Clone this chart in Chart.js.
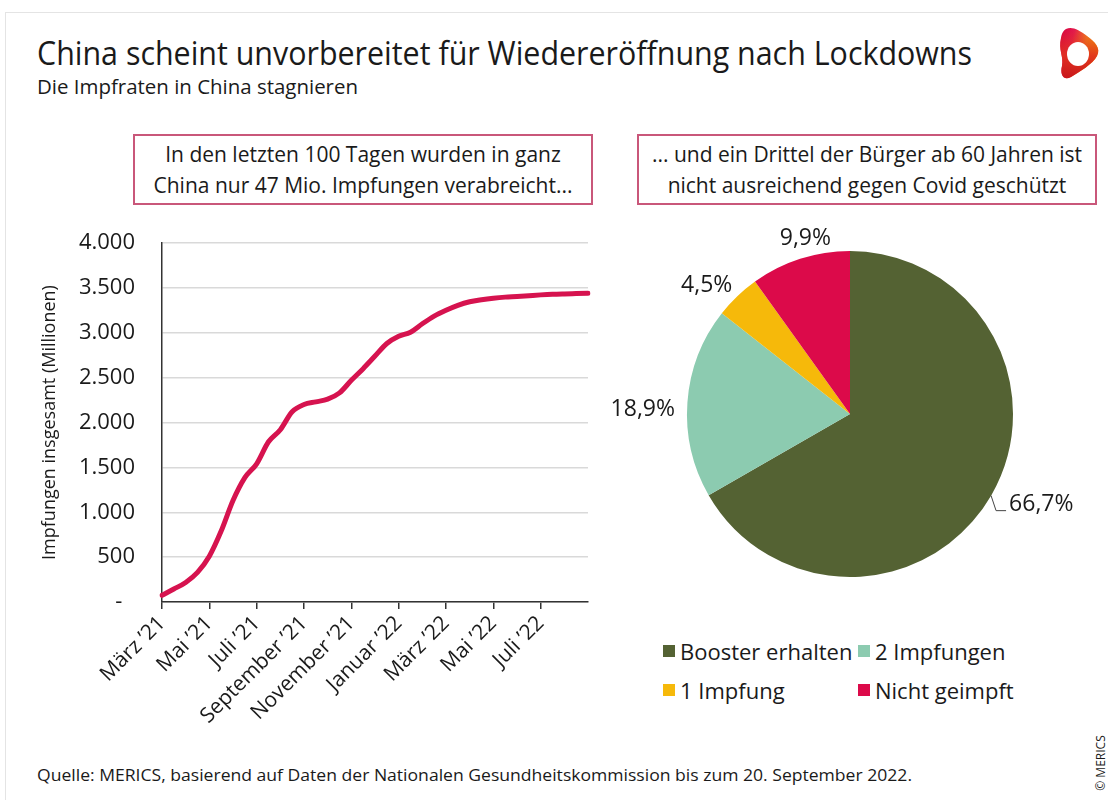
<!DOCTYPE html>
<html><head><meta charset="utf-8">
<script src="https://cdn.jsdelivr.net/npm/chart.js@4.4.1/dist/chart.umd.min.js"></script>
<style>
body{margin:0;background:#fff;font-family:'Open Sans',sans-serif;color:#1a1a1a;}
#wrap{position:relative;width:1108px;height:800px;overflow:hidden;background:#fff;}
.abs{position:absolute;white-space:nowrap;line-height:1;}
.fit{display:inline-block;transform-origin:left top;}
.frame{position:absolute;left:5px;top:12px;width:1200px;height:900px;border-left:1px solid #e4e4e4;border-top:1px solid #e4e4e4;}
.box{position:absolute;top:134px;height:71px;width:460px;box-sizing:border-box;border:2px solid #c9577a;display:flex;align-items:center;justify-content:center;text-align:center;font-size:21px;line-height:31px;color:#1a1a1a;}
.leg{position:absolute;display:flex;align-items:center;font-size:22px;line-height:1;white-space:nowrap;color:#1a1a1a;}
.leg i{display:inline-block;width:12px;height:12px;margin-right:5px;}
canvas{position:absolute;}
</style></head>
<body>
<div id="wrap">
  <div class="frame"></div>
  <div class="abs" style="left:37px;top:37px;font-size:32px;"><span class="fit" data-w="935">China scheint unvorbereitet für Wiedereröffnung nach Lockdowns</span></div>
  <div class="abs" style="left:37px;top:77px;font-size:20px;"><span class="fit" data-w="321">Die Impfraten in China stagnieren</span></div>
  <svg style="position:absolute;left:1056px;top:26px" width="46" height="56" viewBox="0 0 46 56">
    <defs>
      <linearGradient id="lg" x1="0" y1="0" x2="1" y2="0.35">
        <stop offset="0" stop-color="#d5003f"/><stop offset="0.35" stop-color="#e3194f"/><stop offset="0.7" stop-color="#f28a1e"/><stop offset="1" stop-color="#f39a00"/></linearGradient>
      <linearGradient id="lg2" x1="0" y1="0" x2="0" y2="1">
        <stop offset="0" stop-color="#e0301e" stop-opacity="0"/><stop offset="0.55" stop-color="#e0301e" stop-opacity="0.9"/><stop offset="1" stop-color="#c8161b"/></linearGradient>
    </defs>
    <path d="M10 3 C16 0 23 4 31 10 C39 16 45 22 41 30 C37 38 23 46 15 51 C7 55 4 48 6 40 C8 30 2 24 5 12 C6 7 7 5 10 3 Z" fill="url(#lg)"/>
    <path d="M10 3 C16 0 23 4 31 10 C39 16 45 22 41 30 C37 38 23 46 15 51 C7 55 4 48 6 40 C8 30 2 24 5 12 C6 7 7 5 10 3 Z" fill="url(#lg2)"/>
    <ellipse cx="22" cy="28" rx="11" ry="12" fill="#fff"/>
  </svg>
  <div class="box" style="left:133px;">In den letzten 100 Tagen wurden in ganz<br>China nur 47 Mio. Impfungen verabreicht...</div>
  <div class="box" style="left:637px;">... und ein Drittel der Bürger ab 60 Jahren ist<br>nicht ausreichend gegen Covid geschützt</div>
  <canvas id="lineChart" width="570" height="520" style="left:30px;top:225px;width:570px;height:520px;"></canvas>
  <canvas id="pieChart" width="500" height="390" style="left:600px;top:220px;width:500px;height:390px;"></canvas>
  <div id="legend"></div>
  <div class="abs" style="left:37px;top:766px;font-size:17px;"><span class="fit" data-w="875">Quelle: MERICS, basierend auf Daten der Nationalen Gesundheitskommission bis zum 20. September 2022.</span></div>
  <div class="abs" style="left:1101px;top:763px;font-size:12px;transform:translate(-50%,-50%) rotate(-90deg);">© MERICS</div>
</div>
<script>
// ---- Line chart data (cumulative vaccinations, millions) ----
const periods = ['01.03.21','16.03.21','01.04.21','16.04.21','01.05.21','16.05.21','01.06.21','16.06.21','01.07.21','16.07.21','01.08.21','16.08.21','01.09.21','16.09.21','01.10.21','16.10.21','01.11.21','16.11.21','01.12.21','16.12.21','01.01.22','16.01.22','01.02.22','16.02.22','01.03.22','16.03.22','01.04.22','16.04.22','01.05.22','16.05.22','01.06.22','16.06.22','01.07.22','16.07.22','01.08.22','16.08.22','01.09.22'];
const totalDoses = [75,145,218,330,510,790,1130,1385,1540,1785,1920,2120,2200,2230,2260,2330,2470,2600,2740,2880,2960,3006,3100,3185,3250,3305,3345,3368,3385,3397,3404,3413,3422,3429,3433,3436,3439];
const tickLabels = ['März ’21','Mai ’21','Juli ’21','September ’21','November ’21','Januar ’22','März ’22','Mai ’22','Juli ’22'];
const yTitle = 'Impfungen insgesamt (Millionen)';

// ---- Pie chart data (population 60+) ----
const pieLabels = ['Booster erhalten','2 Impfungen','1 Impfung','Nicht geimpft'];
const pieShares = [66.7,18.9,4.5,9.9];
const pieColors = ['#546233','#8ccbb0','#f6b90a','#dc0a4a'];
// style: small nudges of the outside labels (px)
const labelNudge = [[0,0],[-6,10],[-10,11],[12,1]];

const fmtThousands = v => String(v).replace(/\B(?=(\d{3})+(?!\d))/g,'.');
const fmtPct = v => v.toFixed(1).replace('.',',') + '%';

// fit text widths
document.querySelectorAll('.fit').forEach(el=>{
  const w = el.getBoundingClientRect().width;
  el.style.transform = 'scaleX(' + (el.dataset.w / w) + ')';
});

// legend
const legCols = [663, 858], legRows = [651, 690];
const legend = document.getElementById('legend');
pieLabels.forEach((lab,i)=>{
  const d = document.createElement('div');
  d.className = 'leg';
  d.style.left = legCols[i%2] + 'px';
  d.style.top = (legRows[Math.floor(i/2)] - 11) + 'px';
  d.style.height = '22px';
  d.innerHTML = '<i style="background:'+pieColors[i]+'"></i>' + lab;
  legend.appendChild(d);
});

Chart.defaults.font.family = "'Open Sans', sans-serif";
Chart.defaults.color = '#1a1a1a';

const isLabeled = i => i % 4 === 0 && i / 4 < tickLabels.length;

new Chart(document.getElementById('lineChart'), {
  type: 'line',
  data: { labels: periods, datasets: [{ data: totalDoses, borderColor: '#d6134f', borderWidth: 5, pointRadius: 0, cubicInterpolationMode: 'monotone', fill: false, borderCapStyle: 'round', borderJoinStyle: 'round' }] },
  options: {
    responsive: false, animation: false, events: [],
    layout: { padding: { top: 18, right: 12, left: 0, bottom: 0 } },
    plugins: { legend: { display: false }, tooltip: { enabled: false } },
    scales: {
      x: {
        grid: { display: true, drawOnChartArea: false, drawTicks: true, tickLength: 7, lineWidth: 1.5,
                color: c => isLabeled(c.index) ? '#333' : 'rgba(0,0,0,0)' },
        border: { display: true, color: '#333', width: 1.5 },
        ticks: { autoSkip: false, maxRotation: 45, minRotation: 45, font: { size: 21 }, color: '#1a1a1a', padding: 2,
                 callback: (v, i) => isLabeled(i) ? tickLabels[i/4] : '' },
        afterFit(s) { s.height = 143; s.paddingLeft = 0; s.paddingRight = 0; }
      },
      y: {
        min: 0, max: 4000,
        ticks: { stepSize: 500, padding: 27, font: { size: 22 }, color: '#1a1a1a',
                 callback: v => v === 0 ? '-\u2007' : fmtThousands(v) },
        grid: { color: '#d9d9d9', lineWidth: 1.5, drawTicks: false },
        border: { display: true, color: '#333', width: 1.5 },
        title: { display: true, text: yTitle, font: { size: 18 }, color: '#1a1a1a', padding: { top: 9, bottom: 0 } },
        afterFit(s) { s.width = 132; s.paddingTop = 0; s.paddingBottom = 0; }
      }
    }
  }
});

const pieLabelPlugin = {
  id: 'pieLabels',
  afterDatasetsDraw(chart) {
    const ctx = chart.ctx, meta = chart.getDatasetMeta(0);
    ctx.save();
    ctx.font = "23px 'Open Sans'";
    ctx.fillStyle = '#1a1a1a';
    ctx.textBaseline = 'middle';
    meta.data.forEach((arc, i) => {
      const p = arc.getProps(['x','y','startAngle','endAngle','outerRadius'], true);
      const mid = (p.startAngle + p.endAngle) / 2;
      const dx = Math.cos(mid), dy = Math.sin(mid);
      const txt = fmtPct(pieShares[i]);
      if (i === 0) {
        const px = p.x + dx * p.outerRadius, py = p.y + dy * p.outerRadius;
        ctx.strokeStyle = '#444'; ctx.lineWidth = 1;
        ctx.beginPath(); ctx.moveTo(px, py); ctx.lineTo(px + 5, py + 15); ctx.lineTo(px + 15, py + 15); ctx.stroke();
        ctx.textAlign = 'left';
        ctx.fillText(txt, px + 18, py + 9);
      } else {
        const w = ctx.measureText(txt).width, h = 17;
        const d = p.outerRadius + 6 + Math.abs(dx) * w / 2 + Math.abs(dy) * h / 2;
        ctx.textAlign = 'center';
        ctx.fillText(txt, p.x + dx * d + labelNudge[i][0], p.y + dy * d + labelNudge[i][1]);
      }
    });
    ctx.restore();
  }
};

new Chart(document.getElementById('pieChart'), {
  type: 'pie',
  data: { labels: pieLabels, datasets: [{ data: pieShares, backgroundColor: pieColors, borderWidth: 0 }] },
  options: {
    responsive: false, animation: false, events: [],
    layout: { padding: { left: 87, right: 87, top: 31, bottom: 33 } },
    plugins: { legend: { display: false }, tooltip: { enabled: false } }
  },
  plugins: [pieLabelPlugin]
});
</script>
</body></html>
